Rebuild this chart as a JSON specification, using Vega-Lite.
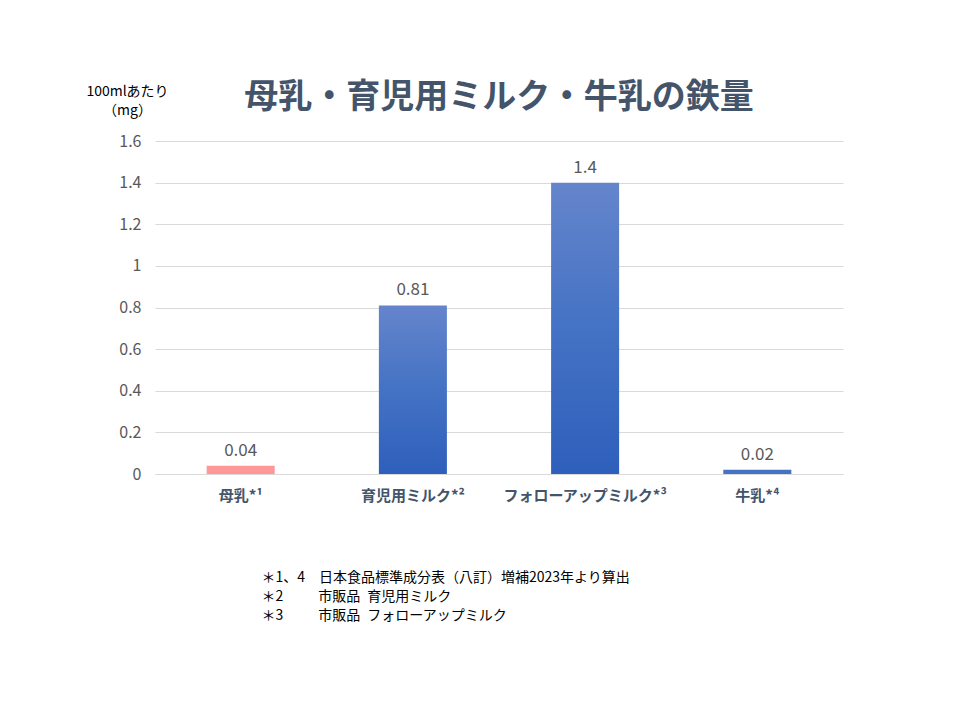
{
  "$schema": "https://vega.github.io/schema/vega-lite/v6.json",
  "width": 688,
  "height": 333,
  "autosize": {"type": "none"},
  "padding": {"left": 155, "top": 141, "right": 117, "bottom": 246},
  "background": "white",
  "config": {
    "view": {"stroke": null},
    "font": "Noto Sans CJK JP"
  },
  "title": {
    "text": "母乳・育児用ミルク・牛乳の鉄量",
    "font": "Noto Sans CJK JP",
    "fontSize": 34,
    "fontWeight": "bold",
    "color": "#44546a",
    "anchor": "middle",
    "offset": 30,
    "dy": 61
  },
  "data": {
    "values": [
      {"name": "母乳", "value": 0.04},
      {"name": "育児用ミルク", "value": 0.81},
      {"name": "フォローアップミルク", "value": 1.4},
      {"name": "牛乳", "value": 0.02}
    ]
  },
  "encoding": {
    "x": {
      "field": "name",
      "type": "nominal",
      "sort": ["母乳", "育児用ミルク", "フォローアップミルク", "牛乳"],
      "scale": {"domain": ["母乳", "育児用ミルク", "フォローアップミルク", "牛乳"], "paddingInner": 0.605, "paddingOuter": 0.3},
      "axis": {
        "labelAngle": 0,
        "labelExpr": "datum.value == '母乳' ? '母乳*¹' : datum.value == '育児用ミルク' ? '育児用ミルク*²' : datum.value == 'フォローアップミルク' ? 'フォローアップミルク*³' : '牛乳*⁴'",
        "labelFont": "Noto Sans CJK JP",
        "labelFontSize": 15,
        "labelFontWeight": "bold",
        "labelColor": "#44546a",
        "labelPadding": 14,
        "ticks": false,
        "domainColor": "#d9d9d9",
        "title": ["＊1、4　日本食品標準成分表（八訂）増補2023年より算出", "＊2　　\u2002市販品\u2002育児用ミルク", "＊3　　\u2002市販品\u2002フォローアップミルク"],
        "titleFont": "Noto Sans CJK JP",
        "titleFontSize": 14,
        "titleFontWeight": "normal",
        "titleColor": "#000000",
        "titleAnchor": "start",
        "titleAlign": "left",
        "titleBaseline": "top",
        "titleX": 106,
        "titleY": 96,
        "titleLineHeight": 19
      }
    },
    "y": {
      "field": "value",
      "type": "quantitative",
      "scale": {"domain": [0, 1.6]},
      "axis": {
        "values": [0, 0.2, 0.4, 0.6, 0.8, 1, 1.2, 1.4, 1.6],
        "labelExpr": "format(datum.value, '.1~f')",
        "labelFont": "Noto Sans CJK JP",
        "labelFontSize": 16,
        "labelColor": "#595959",
        "labelPadding": 14,
        "ticks": false,
        "domain": false,
        "gridColor": "#d9d9d9",
        "title": ["100mlあたり", "（mg）"],
        "titleFont": "Noto Sans CJK JP",
        "titleFontSize": 14,
        "titleFontWeight": "normal",
        "titleColor": "#000000",
        "titleAngle": 0,
        "titleAlign": "center",
        "titleBaseline": "middle",
        "titleX": -28,
        "titleY": -50,
        "titleLineHeight": 19
      }
    }
  },
  "layer": [
    {
      "transform": [{"filter": "datum.name == '母乳'"}],
      "mark": {"type": "bar", "color": "#ff9999"}
    },
    {
      "transform": [{"filter": "datum.name == '牛乳'"}],
      "mark": {"type": "bar", "color": "#4472c4"}
    },
    {
      "transform": [{"filter": "datum.name == '育児用ミルク' || datum.name == 'フォローアップミルク'"}],
      "mark": {
        "type": "bar",
        "color": {
          "gradient": "linear",
          "x1": 0, "y1": 0, "x2": 0, "y2": 1,
          "stops": [
            {"offset": 0, "color": "#6585cc"},
            {"offset": 0.5, "color": "#4472c4"},
            {"offset": 1, "color": "#2e5fbb"}
          ]
        }
      }
    },
    {
      "mark": {
        "type": "text",
        "baseline": "bottom",
        "dy": -6,
        "font": "Noto Sans CJK JP",
        "fontSize": 17,
        "color": "#595959"
      },
      "encoding": {
        "text": {"field": "value", "type": "quantitative"}
      }
    }
  ]
}
